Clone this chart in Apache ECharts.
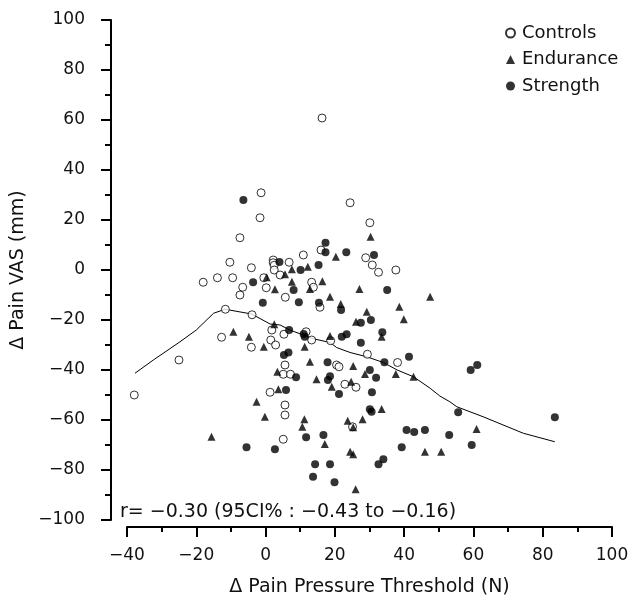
<!DOCTYPE html>
<html>
<head>
<meta charset="utf-8">
<script src="https://cdn.jsdelivr.net/npm/echarts@6/dist/echarts.min.js"></script>
<style>html,body{margin:0;padding:0;background:#fff}#c{width:632px;height:605px}</style>
</head>
<body>
<div id="c"></div>
<script>
var xTicks = [-40, -20, 0, 20, 40, 60, 80, 100];
var yTicks = [-100, -80, -60, -40, -20, 0, 20, 40, 60, 80, 100];
var seriesNames = ['Controls', 'Endurance', 'Strength'];

var controls = [
  [-37.9,-50],[-25,-36],[-18,-4.9],[-13.9,-3.1],[-10.3,3.1],[-9.5,-3.1],[-7.4,12.9],[-6.6,-6.9],
  [-7.4,-10],[-4.1,0.9],[-1.6,20.9],[-1.3,30.9],[-0.5,-3.1],[0.2,-7.1],[2.2,4],[2.2,2.9],[2.5,1.9],
  [2.5,0],[4.2,-2],[-11.6,-15.7],[-3.9,-17.9],[-12.7,-26.9],[-4.1,-30.9],[1.8,-24],[1.5,-28],
  [2.9,-30],[1.3,-48.9],[24.4,26.9],[30.1,18.9],[16,8],[10.9,6],[6.8,3.1],[28.9,4.9],[30.8,2],
  [32.6,-0.9],[37.6,0],[13.3,-4.9],[13.8,-6.9],[5.7,-10.9],[15.7,-14.9],[11.7,-24.7],[5.3,-25.7],
  [13.3,-28],[18.8,-28.3],[29.4,-33.7],[5.6,-38],[5.1,-41.7],[7.2,-41.7],[5.6,-54],[5.6,-58],
  [5.1,-67.7],[20.5,-38],[21.2,-38.7],[22.9,-45.7],[26.1,-46.9],[25.1,-62.7],[38.1,-37],[16.3,60.8]
];
var endurance = [
  [-9.3,-24.7],[-4.8,-26.7],[-0.5,-30.7],[0.3,-2.9],[2.7,-7.7],[2.5,-21.7],[-15.6,-66.7],[-2.6,-52.7],
  [-0.2,-58.7],[3.4,-40.7],[3.7,-47.7],[30.3,13.3],[20.3,5.3],[12.2,1.3],[7.6,0.3],[5.6,-1.7],
  [7.6,-4.7],[16.4,-4.5],[12.8,-7.6],[27.1,-7.6],[18.6,-10.7],[47.5,-10.7],[21.7,-13.6],[38.6,-14.7],
  [29.2,-16.7],[39.9,-19.7],[26.1,-20.7],[18.6,-26.4],[33.5,-26.7],[11.3,-30.7],[12.8,-36.7],
  [14.7,-43.7],[25.3,-38.4],[19.1,-46.7],[24.7,-44.7],[28.7,-41.6],[37.6,-41.6],[42.7,-42.7],
  [33.5,-55.6],[11.2,-59.7],[10.6,-62.7],[23.7,-60.3],[28,-59.7],[25.3,-62.9],[17.1,-69.6],
  [24.4,-72.7],[25.3,-73.7],[46,-72.7],[50.7,-72.7],[26,-87.7],[60.9,-63.6]
];
var strength = [
  [-6.4,28],[-3.6,-4.9],[-0.8,-13.1],[4,3.2],[-5.5,-70.9],[2.7,-71.7],[17.3,10.9],[17.3,7.1],
  [23.3,7.1],[31.3,6],[10.1,0],[15.3,2],[35.1,-8],[8.1,-8],[9.6,-12.9],[15.4,-13.1],[21.8,-16],
  [30.4,-20],[27.5,-21.1],[6.8,-24],[11,-25.6],[11.3,-26.7],[22,-26.7],[23.4,-25.7],[33.7,-24.9],
  [27.5,-29.1],[5.3,-34],[6.6,-33],[41.4,-34.7],[34.3,-36.9],[17.9,-36.9],[30.1,-40],[18.6,-42.5],
  [18,-44],[8.8,-42.9],[31.9,-43.1],[5.9,-48],[21.2,-49.6],[30.7,-48.9],[30.1,-55.7],[30.6,-56.7],
  [40.7,-64],[42.9,-64.8],[46,-64],[53,-66],[11.7,-66.9],[16.7,-66],[39.3,-70.9],[34,-75.7],
  [32.6,-77.7],[14.3,-77.7],[18.6,-77.7],[13.7,-82.7],[19.9,-84.9],[61.1,-38],[59.2,-40],
  [55.6,-56.9],[83.5,-58.9],[59.5,-70]
];
var fitLine = [
  [-37.7,-41.3],[-32.4,-36],[-25,-29],[-20,-24],[-15,-17.3],[-11.7,-15.7],[-4,-17.6],[1.3,-21.6],
  [4.2,-22],[7,-24],[13.8,-27.5],[18.6,-29],[20.5,-31],[24.4,-33],[29.2,-34.7],[34,-37],[38,-40],
  [42.7,-42.7],[47.5,-47.3],[50.3,-50.4],[53.2,-52.7],[55.2,-54.7],[62.8,-58.7],[74.4,-65.3],[83.5,-68.7]
];
var corrText = 'r= \u22120.30 (95CI% : \u22120.43 to \u22120.16)';
var xTitle = '\u0394 Pain Pressure Threshold (N)';
var yTitle = '\u0394 Pain VAS (mm)';

var FONT = 'DejaVu Sans';
var TXT = '#111';
function minusFmt(v){ return String(v).replace('-', '\u2212'); }

var chart = echarts.init(document.getElementById('c'), null, {renderer: 'canvas'});
chart.setOption({
  animation: false,
  backgroundColor: '#fff',
  textStyle: {fontFamily: FONT, color: TXT},
  grid: {left: 127, right: 20, top: 20, bottom: 85, containLabel: false},
  legend: {
    orient: 'vertical', left: 500, top: 19, itemWidth: 9, itemHeight: 9, itemGap: 8.5,
    data: seriesNames,
    textStyle: {fontFamily: FONT, fontSize: 18, color: TXT, padding: [0,0,0,2]}
  },
  xAxis: {
    type: 'value', min: xTicks[0], max: xTicks[xTicks.length-1], interval: 20,
    offset: 7,
    name: xTitle, nameLocation: 'middle', nameGap: 51,
    nameTextStyle: {fontFamily: FONT, fontSize: 19, color: TXT},
    axisLine: {show: true, onZero: false, lineStyle: {color: '#000', width: 2}},
    axisTick: {show: true, inside: false, length: 10, lineStyle: {color: '#000', width: 2}},
    minorTick: {show: true, splitNumber: 2, length: 5, lineStyle: {color: '#000', width: 2}},
    axisLabel: {margin: 20, fontFamily: FONT, fontSize: 17, color: TXT, formatter: minusFmt},
    splitLine: {show: false}
  },
  yAxis: {
    type: 'value', min: yTicks[0], max: yTicks[yTicks.length-1], interval: 20,
    offset: 16,
    name: yTitle, nameLocation: 'middle', nameGap: 75, nameRotate: 90,
    nameTextStyle: {fontFamily: FONT, fontSize: 19, color: TXT},
    axisLine: {show: true, onZero: false, lineStyle: {color: '#000', width: 2}},
    axisTick: {show: true, inside: false, length: 10, lineStyle: {color: '#000', width: 2}},
    minorTick: {show: true, splitNumber: 2, length: 6, lineStyle: {color: '#000', width: 2}},
    axisLabel: {margin: 26, fontFamily: FONT, fontSize: 17, color: TXT, formatter: minusFmt},
    splitLine: {show: false}
  },
  graphic: [{
    type: 'text', left: 120, top: 503,
    style: {text: corrText, font: '19px "DejaVu Sans"', fill: TXT}
  }],
  series: [
    {name: 'fit', type: 'line', data: fitLine, showSymbol: false, symbol: 'none',
     lineStyle: {color: '#000', width: 1}, silent: true, z: 1},
    {name: seriesNames[0], type: 'scatter', data: controls, symbol: 'circle', symbolSize: 8,
     itemStyle: {color: '#fff', borderColor: '#000', borderWidth: 1}, z: 3},
    {name: seriesNames[1], type: 'scatter', data: endurance, symbol: 'triangle', symbolSize: 8,
     itemStyle: {color: '#000'}, z: 4},
    {name: seriesNames[2], type: 'scatter', data: strength, symbol: 'circle', symbolSize: 8,
     itemStyle: {color: '#000'}, z: 5}
  ]
});
</script>
</body>
</html>
